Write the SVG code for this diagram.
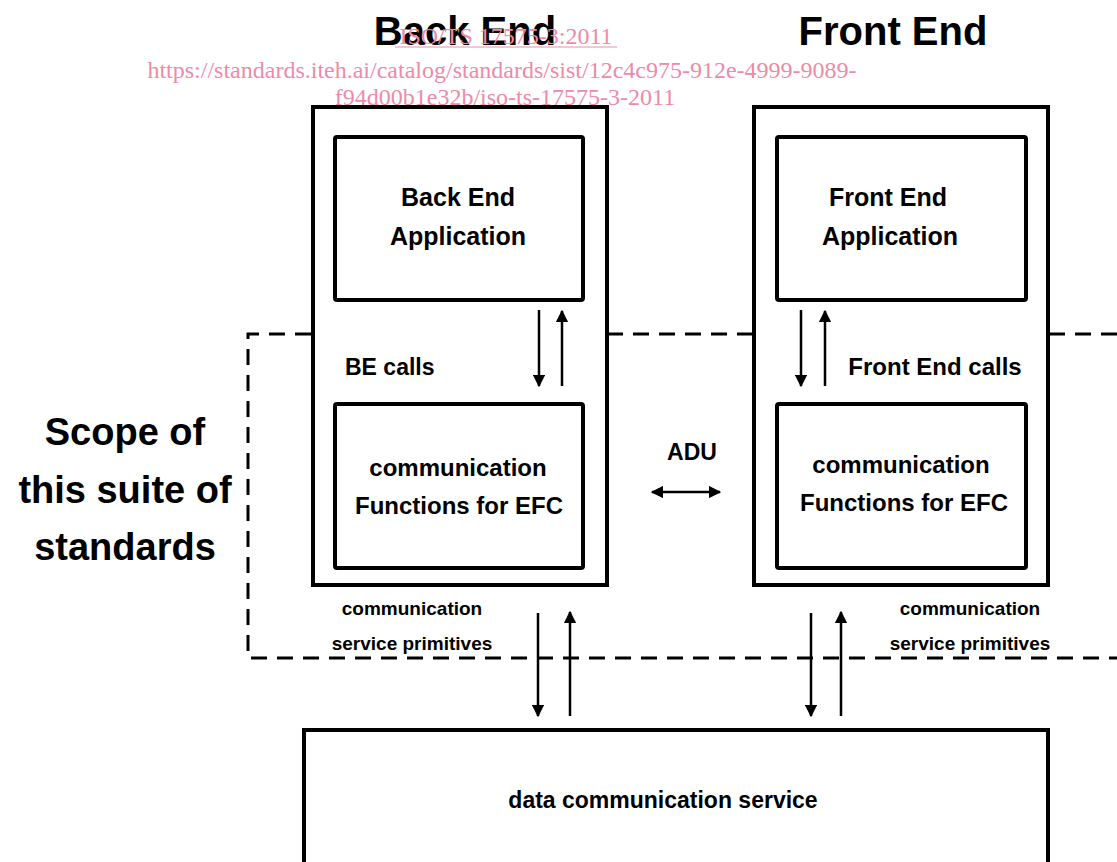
<svg xmlns="http://www.w3.org/2000/svg" width="1117" height="862" viewBox="0 0 1117 862">
<style>
.box{fill:#fff;stroke:#000;stroke-width:4}
.in{fill:none;stroke:#000;stroke-width:4}
.t{font-family:"Liberation Sans",Arial,sans-serif;font-weight:bold;fill:#000;text-anchor:middle}
.wm{font-family:"Liberation Serif","Times New Roman",serif;fill:#ee8aa8;text-anchor:middle;font-size:24px}
.ar{stroke:#000;stroke-width:2.5;fill:none}
</style>
<defs>
<marker id="ah" viewBox="0 0 10 10" refX="9" refY="5" markerWidth="5" markerHeight="5" orient="auto" markerUnits="strokeWidth">
<path d="M0,0 L10,5 L0,10 z" fill="#000"/>
</marker>
<marker id="ahs" viewBox="0 0 10 10" refX="1" refY="5" markerWidth="5" markerHeight="5" orient="auto" markerUnits="strokeWidth">
<path d="M10,0 L0,5 L10,10 z" fill="#000"/>
</marker>
</defs>
<rect width="1117" height="862" fill="#fff"/>
<g id="scope">
<path d="M1117,334 H248 V658 H1117" fill="none" stroke="#000" stroke-width="3" stroke-dasharray="16,10"/>
<text class="t" x="125" y="445" font-size="38">Scope of</text>
<text class="t" x="125" y="503" font-size="38">this suite of</text>
<text class="t" x="125" y="560" font-size="38">standards</text>
</g>
<g id="backend">
<rect class="box" x="313" y="107" width="294" height="478"/>
<text class="t" x="465" y="45" font-size="40">Back End</text>
</g>
<g id="frontend">
<rect class="box" x="754" y="107" width="294" height="478"/>
<text class="t" x="893" y="45" font-size="40">Front End</text>
</g>
<g id="be-app">
<rect class="in" x="335" y="137" width="248" height="163" rx="2"/>
<text class="t" x="458" y="206" font-size="25">Back End</text>
<text class="t" x="458" y="245" font-size="25">Application</text>
</g>
<g id="fe-app">
<rect class="in" x="777" y="137" width="249" height="163" rx="2"/>
<text class="t" x="888" y="206" font-size="25">Front End</text>
<text class="t" x="890" y="245" font-size="25">Application</text>
</g>
<g id="be-comm">
<rect class="in" x="335" y="404" width="248" height="164" rx="2"/>
<text class="t" x="458" y="476" font-size="24">communication</text>
<text class="t" x="459" y="514" font-size="24">Functions for EFC</text>
</g>
<g id="fe-comm">
<rect class="in" x="777" y="404" width="249" height="164" rx="2"/>
<text class="t" x="901" y="473" font-size="24">communication</text>
<text class="t" x="904" y="511" font-size="24">Functions for EFC</text>
</g>
<g id="data-service">
<rect class="box" x="304" y="730" width="744" height="150"/>
<text class="t" x="663" y="808" font-size="23">data communication service</text>
</g>
<g id="labels">
<text class="t" x="345" y="375" font-size="23" style="text-anchor:start">BE calls</text>
<text class="t" x="935" y="375" font-size="24">Front End calls</text>
<text class="t" x="692" y="460" font-size="23">ADU</text>
<text class="t" x="412" y="615" font-size="19">communication</text>
<text class="t" x="412" y="650" font-size="19">service primitives</text>
<text class="t" x="970" y="615" font-size="19">communication</text>
<text class="t" x="970" y="650" font-size="19">service primitives</text>
</g>
<g id="connectors">
<line class="ar" x1="539" y1="310" x2="539" y2="386" marker-end="url(#ah)"/>
<line class="ar" x1="562" y1="386" x2="562" y2="311" marker-end="url(#ah)"/>
<line class="ar" x1="801" y1="310" x2="801" y2="386" marker-end="url(#ah)"/>
<line class="ar" x1="825" y1="386" x2="825" y2="311" marker-end="url(#ah)"/>
<line class="ar" x1="538" y1="613" x2="538" y2="716" marker-end="url(#ah)"/>
<line class="ar" x1="570" y1="716" x2="570" y2="612" marker-end="url(#ah)"/>
<line class="ar" x1="811" y1="613" x2="811" y2="716" marker-end="url(#ah)"/>
<line class="ar" x1="841" y1="716" x2="841" y2="612" marker-end="url(#ah)"/>
<line class="ar" x1="652" y1="492" x2="720" y2="492" marker-start="url(#ahs)" marker-end="url(#ah)"/>
</g>
<g id="watermark">
<text class="wm" x="506" y="44">ISO/TS 17575-3:2011</text>
<line x1="395" y1="47" x2="617" y2="47" stroke="#ee8aa8" stroke-width="1.2"/>
<text class="wm" x="502" y="78">https://standards.iteh.ai/catalog/standards/sist/12c4c975-912e-4999-9089-</text>
<text class="wm" x="505" y="105">f94d00b1e32b/iso-ts-17575-3-2011</text>
</g>
</svg>
